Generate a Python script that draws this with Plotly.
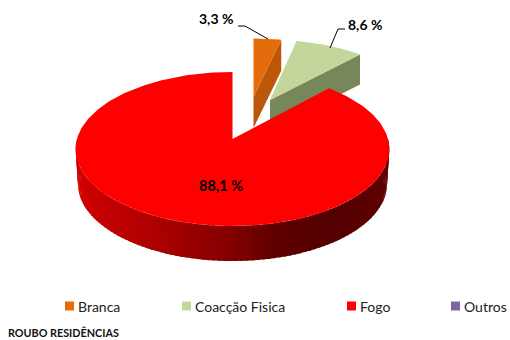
import numpy as np
import plotly.graph_objects as go

categories = ["Branca", "Coacção Fisica", "Fogo", "Outros"]
values = [3.3, 8.6, 88.1, 0.0]
value_labels = ["3,3 %", "8,6 %", "88,1 %"]
chart_title = "ROUBO RESIDÊNCIAS"

top_colors = ["#E46C0A", "#C3D69B", "#FF0000", "#8064A2"]
cut_colors = ["#BC5708", "#76875A"]
FONT = "Lato, 'Open Sans', sans-serif"
K = 0.13

# Slice geometry in pixels: apex x, apex y, horizontal scale, vertical scale, depth
geom = {
    0: (253.5, 97, 152, 66, 31),
    1: (270, 100, 145, 68, 30),
    2: (232.5, 139, 155.5, 75.7, 35),
}


def project(theta, slice_index, drop=0.0, shrink=1.0):
    x0, y0, a, b, _ = geom[slice_index]
    u, v = np.sin(theta), -np.cos(theta)
    d = 1 - K * v
    return x0 + shrink * a * u / d, y0 + drop + b * v / d


def lerp_color(x):
    stops_x = [75, 120, 170, 232, 280, 340, 389]
    stops_r = [210, 190, 165, 130, 92, 84, 96]
    r = int(round(np.interp(x, stops_x, stops_r)))
    return f"rgb({r},0,0)"


fig = go.Figure()


def poly(xs, ys, color):
    fig.add_trace(go.Scatter(
        x=list(xs), y=list(ys), mode="lines", fill="toself", fillcolor=color,
        line=dict(width=0, color=color), hoverinfo="skip", showlegend=False,
    ))


shares = np.array(values) / sum(values) * 2 * np.pi
edges = np.concatenate([[0], np.cumsum(shares)])

# Exploded small slices: cut face, then top face
for i in (0, 1):
    t0, t1 = edges[i], edges[i + 1]
    x0, y0, _, _, depth = geom[i]
    xe, ye = project(t1, i)
    poly([x0, xe, xe, x0], [y0, ye, ye + depth, y0 + depth], cut_colors[i])
    th = np.linspace(t0, t1, 30)
    xa, ya = project(th, i)
    poly(np.r_[x0, xa], np.r_[y0, ya], top_colors[i])

# Big slice: shaded rim from left to right around the front, then top face
t0, t1 = edges[2], edges[3]
depth = geom[2][4]
front = np.linspace(np.pi * 3 / 2, np.pi / 2, 100)
for a, b in zip(front[:-1], front[1:]):
    th2 = np.linspace(a + 0.004, b - 0.012, 4)
    xt, yt = project(th2, 2)
    xb, yb = project(th2, 2, drop=depth, shrink=0.985)
    poly(np.r_[xt, xb[::-1]], np.r_[yt, yb[::-1]], lerp_color(xt.mean()))

th = np.linspace(t0, t1, 240)
xa, ya = project(th, 2)
poly(np.r_[geom[2][0], xa], np.r_[geom[2][1], ya], top_colors[2])

# Leader lines
for lx, ly in (([238, 245, 268], [26, 26, 39]), ([345, 338, 330], [29, 29, 48])):
    fig.add_trace(go.Scatter(x=lx, y=ly, mode="lines", line=dict(color="#000000", width=1),
                             hoverinfo="skip", showlegend=False))

# Legend row
legend_x = [69.5, 186.5, 351.5, 455.5]
fig.add_trace(go.Scatter(
    x=legend_x, y=[306] * 4, mode="markers",
    marker=dict(symbol="square", size=9, color=top_colors, line=dict(width=0)),
    hoverinfo="skip", showlegend=False, cliponaxis=False,
))
for name, mx in zip(categories, legend_x):
    fig.add_annotation(x=mx + 8.5, y=306, xanchor="left", text=name, showarrow=False, borderpad=0,
                       xshift=-1, font=dict(family=FONT, size=14, color="#222222"))

for txt, x, y, size in (
    (value_labels[0], 216, 18, 14),
    (value_labels[1], 365, 24, 14),
    (value_labels[2], 221, 185, 14.5),
):
    fig.add_annotation(x=x, y=y, text=f"<b>{txt}</b>", showarrow=False,
                       font=dict(family=FONT, size=size, color="#000000"))

fig.add_annotation(x=7, y=339.5, xanchor="left", yanchor="bottom", text=f"<b>{chart_title}</b>",
                   showarrow=False, borderpad=0,
                   font=dict(family=FONT, size=10.8, color="#111111"))

fig.update_layout(
    width=510, height=340, margin=dict(l=0, r=0, t=0, b=0),
    paper_bgcolor="white", plot_bgcolor="white", showlegend=False,
    xaxis=dict(range=[0, 510], visible=False, fixedrange=True),
    yaxis=dict(range=[340, 0], visible=False, fixedrange=True),
)
fig.write_html("out.html", config={"displayModeBar": False},
               post_script="document.body.style.margin='0';")
